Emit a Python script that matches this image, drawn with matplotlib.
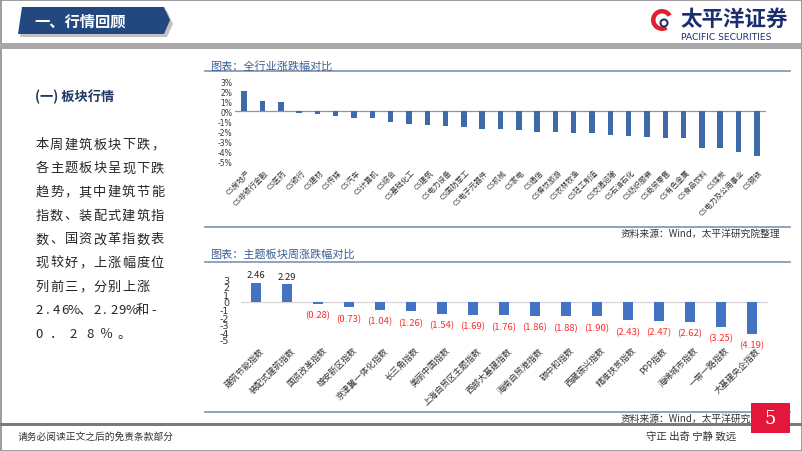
import matplotlib
matplotlib.use('Agg')
import matplotlib.pyplot as plt
from matplotlib.patches import Polygon, Rectangle, Wedge

plt.rcParams['font.family'] = ['Noto Sans CJK SC', 'DejaVu Sans']

# ---------------- data ----------------
industries = ['CS房地产', 'CS非银行金融', 'CS医药', 'CS银行', 'CS建材', 'CS传媒', 'CS汽车',
              'CS计算机', 'CS综合', 'CS基础化工', 'CS建筑', 'CS电力设备', 'CS国防军工',
              'CS电子元器件', 'CS机械', 'CS家电', 'CS通信', 'CS餐饮旅游', 'CS农林牧渔',
              'CS轻工制造', 'CS交通运输', 'CS石油石化', 'CS纺织服装', 'CS商贸零售',
              'CS有色金属', 'CS食品饮料', 'CS煤炭', 'CS电力及公用事业', 'CS钢铁']
industry_chg = [2.0, 1.03, 0.9, -0.17, -0.3, -0.5, -0.63, -0.67, -1.03, -1.2, -1.33, -1.43,
                -1.5, -1.73, -1.77, -1.83, -2.0, -2.07, -2.1, -2.1, -2.3, -2.43, -2.53,
                -2.6, -2.67, -3.57, -3.57, -4.0, -4.37]
top_yticks = [3, 2, 1, 0, -1, -2, -3, -4, -5]

themes = ['建筑节能指数', '装配式建筑指数', '国资改革指数', '雄安新区指数', '京津冀一体化指数',
          '长三角指数', '美丽中国指数', '上海自贸区主题指数', '西部大基建指数', '海南自贸港指数',
          '碳中和指数', '西藏振兴指数', '精准扶贫指数', 'PPP指数', '海绵城市指数',
          '一带一路指数', '大基建央企指数']
theme_chg = [2.46, 2.29, -0.28, -0.73, -1.04, -1.26, -1.54, -1.69, -1.76, -1.86, -1.88,
             -1.90, -2.43, -2.47, -2.62, -3.25, -4.19]
bottom_yticks = [3, 2, 1, 0, -1, -2, -3, -4, -5]

body_lines = ['本周建筑板块下跌，', '各主题板块呈现下跌', '趋势，其中建筑节能',
              '指数、装配式建筑指', '数、国资改革指数表', '现较好，上涨幅度位',
              '列前三，分别上涨', '2.46%、2.29%和-', '0．28％。']

# ---------------- figure ----------------
W, H = 802, 452
fig = plt.figure(figsize=(W / 100, H / 100), dpi=100)
fig.patch.set_facecolor('white')

bg = fig.add_axes([0, 0, 1, 1], zorder=0)
bg.set_xlim(0, W); bg.set_ylim(H, 0); bg.axis('off')
fg = fig.add_axes([0, 0, 1, 1], zorder=20)
fg.set_xlim(0, W); fg.set_ylim(H, 0); fg.axis('off')
fg.patch.set_alpha(0)


def pax(l, t, r, b, z=5):
    return fig.add_axes([l / W, 1 - b / H, (r - l) / W, (b - t) / H], zorder=z)


NAVY = '#1f3864'
LINE = '#8a9bb5'
TITLE_C = '#3b5f95'

# slide border
bg.add_patch(Rectangle((0.5, 0.5), W - 1, H - 1, fill=False, ec='#8c8c8c', lw=1.2))

# header tag
bg.add_patch(Polygon([(24, 12), (167, 12), (173, 25), (167, 38), (20, 38)],
                     closed=True, fc='#9a9a9a', ec='none', alpha=0.6))
bg.add_patch(Polygon([(22, 8), (164, 8), (170, 21), (164, 35), (18, 35)],
                     closed=True, fc='#23487f', ec='none'))
bg.text(34, 21.5, '一、行情回顾', color='white', fontsize=11, va='center', ha='left',
        fontweight='bold')

# logo
bg.add_patch(Wedge((662, 21), 11, 60, 330, width=4.5, fc='#e0202e', ec='none'))
bg.add_patch(Wedge((664, 24), 4.5, 0, 360, width=2, fc='#1f2f6b', ec='none'))
bg.text(680, 19, '太平洋证券', color='#1b2f6e', fontsize=15.5, fontweight='bold',
        va='center', ha='left')
bg.text(681, 38, 'PACIFIC SECURITIES', color='#1b2f6e', fontsize=6.6,
        va='center', ha='left', family='DejaVu Sans')

# grey band under header
bg.add_patch(Rectangle((0, 44), W, 6, fc='#a8a8a8', ec='none'))

# left text
bg.text(35, 97, '(一) 板块行情', color=NAVY, fontsize=9.5, fontweight='bold',
        va='center', ha='left')
y0, dy = 145, 23.7
for li, line in enumerate(body_lines):
    y = y0 + li * dy
    if li == 8:
        x = 35
        for ch in line:
            bg.text(x + 4, y, ch, fontsize=9.5, color='#262626', va='center', ha='center')
            x += 17
        continue
    x = 35
    for ch in line:
        half = ch.isascii()
        w = 8.6 if half else 14.4
        bg.text(x + w / 2, y, ch, fontsize=9.5, color='#262626', va='center', ha='center')
        x += w

# ---------------- top chart ----------------
bg.text(210, 66, '图表：全行业涨跌幅对比', color=TITLE_C, fontsize=8, va='center', ha='left')
bg.plot([205, 790], [72, 72], color=LINE, lw=1.3)
bg.plot([205, 790], [228, 228], color=LINE, lw=1.3)
bg.text(780, 233.5, '资料来源：Wind，太平洋研究院整理', color='#333333', fontsize=7,
        va='center', ha='right', style='italic')

ax1 = pax(235, 82, 766, 163)
xs1 = list(range(len(industries)))
ax1.bar(xs1, industry_chg, width=0.3, color='#3e6aaa', zorder=3)
ax1.set_xlim(-0.5, len(industries) - 0.5)
ax1.set_ylim(-5, 3)
ax1.axhline(0, color='#8496b0', lw=0.9, zorder=2)
ax1.set_yticks(top_yticks)
ax1.set_yticklabels([f'{t}%' for t in top_yticks], fontsize=5.5, color='#333333',
                    family='DejaVu Sans')
ax1.tick_params(axis='y', length=0, pad=2)
ax1.set_xticks([])
for s in ax1.spines.values():
    s.set_visible(False)
ax1.patch.set_alpha(0)
for i, lab in enumerate(industries):
    ax1.annotate(lab, xy=(i, 0), xycoords=('data', 'axes fraction'),
                 xytext=(3.5, -6.5), textcoords='offset points', rotation=45,
                 ha='right', va='center', rotation_mode='anchor', fontsize=5.3,
                 color='#333333', annotation_clip=False)

# ---------------- bottom chart ----------------
bg.text(210, 254, '图表：主题板块周涨跌幅对比', color=TITLE_C, fontsize=8, va='center', ha='left')
bg.plot([205, 790], [263, 263], color=LINE, lw=1.3)
bg.plot([205, 790], [413, 413], color=LINE, lw=1.3)
bg.text(780, 418.5, '资料来源：Wind，太平洋研究院整理', color='#333333', fontsize=7,
        va='center', ha='right', style='italic')

ax2 = pax(240.5, 280, 767.5, 341)
xs2 = list(range(len(themes)))
ax2.bar(xs2, theme_chg, width=0.3, color='#4472c4', zorder=3)
ax2.set_xlim(-0.5, len(themes) - 0.5)
ax2.set_ylim(-5, 3)
ax2.axhline(0, color='#d9d9d9', lw=1.0, zorder=2)
ax2.set_yticks(bottom_yticks)
ax2.set_yticklabels([str(t) for t in bottom_yticks], fontsize=6.8, color='#333333',
                    family='DejaVu Sans')
ax2.tick_params(axis='y', length=0, pad=8)
ax2.set_xticks([])
for s in ax2.spines.values():
    s.set_visible(False)
ax2.patch.set_alpha(0)
for i, v in enumerate(theme_chg):
    if v >= 0:
        ax2.annotate(f'{v:.2f}', xy=(i, v), xytext=(0, 6), textcoords='offset points',
                     ha='center', va='center', fontsize=6.8, color='#222222',
                     annotation_clip=False)
    else:
        ax2.annotate(f'({abs(v):.2f})', xy=(i, v), xytext=(0, -8), textcoords='offset points',
                     ha='center', va='center', fontsize=6.8, color='#ff2a2a',
                     annotation_clip=False)
for i, lab in enumerate(themes):
    ax2.annotate(lab, xy=(i, 0), xycoords=('data', 'axes fraction'),
                 xytext=(5, -6), textcoords='offset points', rotation=45,
                 ha='right', va='center', rotation_mode='anchor', fontsize=6.2,
                 color='#333333', annotation_clip=False)

# ---------------- footer ----------------
fg.add_patch(Rectangle((0, 424), W, 3, fc='#7a7a7a', ec='none'))
fg.text(18, 437, '请务必阅读正文之后的免责条款部分', fontsize=7, color='#333333',
        va='center', ha='left')
fg.text(736, 437, '守正 出奇 宁静 致远', fontsize=7.5, color='#333333',
        va='center', ha='right')
fg.add_patch(Rectangle((751, 404), 39, 30, fc='#e3173a', ec='none'))
fg.text(770.5, 419, '5', color='white', fontsize=13, va='center', ha='center',
        family='DejaVu Serif')

fig.savefig('out.png', dpi=100, facecolor='white')
